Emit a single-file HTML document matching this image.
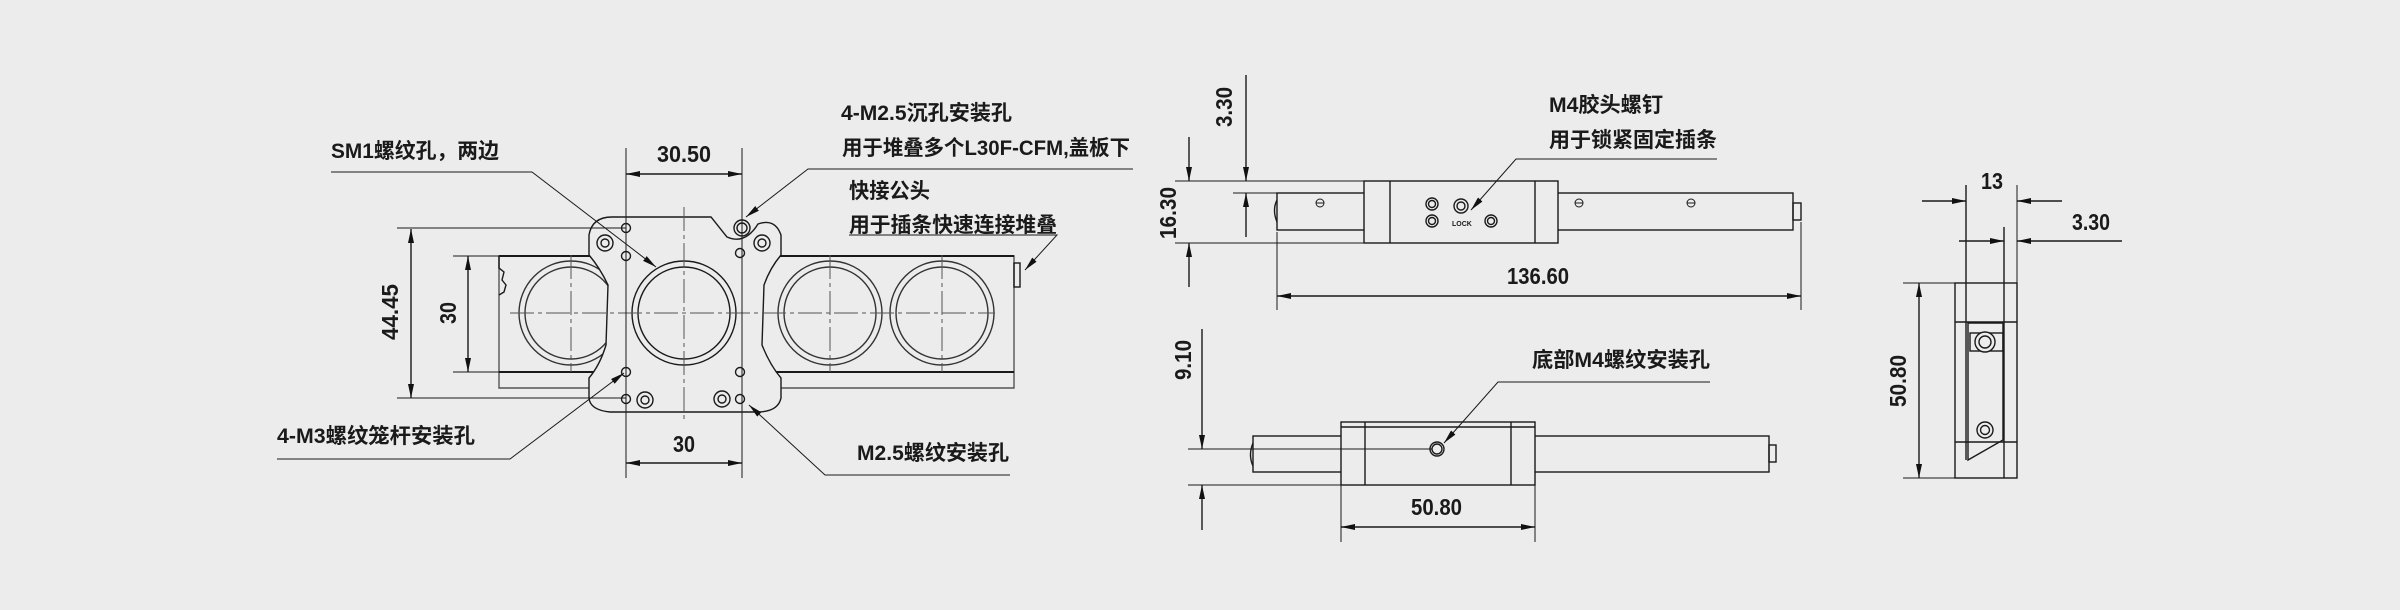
<!DOCTYPE html>
<html><head><meta charset="utf-8"><style>
html,body{margin:0;padding:0;background:#ececec;}
svg{display:block}
text{font-family:"Liberation Sans","Noto Sans CJK SC",sans-serif;fill:#1a1a1a;font-weight:bold;}
.l{font-size:21px}
.d{font-size:23px}
</style></head><body>
<svg width="2400" height="610" viewBox="0 0 2400 610" xmlns="http://www.w3.org/2000/svg">
<defs>
<marker id="a" viewBox="0 0 14 6" refX="14" refY="3" markerWidth="14" markerHeight="6" markerUnits="userSpaceOnUse" orient="auto"><path d="M0,0 L14,3 L0,6 Z" fill="#111"/></marker>
</defs>
<rect width="2400" height="610" fill="#ececec"/>
<g stroke="#1a1a1a" stroke-width="1.4" fill="none">
<!-- VIEW 1 -->
<path d="M499,256 L1014,256 L1014,388 L499,388 Z" stroke="#555"/>
<line x1="499" y1="256" x2="1014" y2="256" stroke-width="2"/>
<line x1="499" y1="372" x2="1014" y2="372" stroke-width="2"/>
<path d="M499,256 L499,268 L504,272 L502,280 L506,285 L504,292 L499,295" />
<rect x="1014" y="263" width="6" height="24"/>
<g stroke="#333">
<circle cx="571" cy="313" r="52"/><circle cx="571" cy="313" r="46"/>
<circle cx="830" cy="313" r="52"/><circle cx="830" cy="313" r="46"/>
<circle cx="942" cy="313" r="52"/><circle cx="942" cy="313" r="46"/>
</g>
<path d="M612,217 L711,217 L727,237 Q745,245 758,224 Q775,218 781,235 L781,255 Q770,268 764,285 L762,345 Q770,365 781,378 L781,398 Q778,412 757,412 L610,412 Q590,410 589,398 L589,378 Q600,365 606,345 L608,285 Q600,268 589,255 L589,235 Q592,217 612,217 Z" fill="#ececec"/>
<circle cx="684" cy="313" r="52"/><circle cx="684" cy="313" r="46"/>
<circle cx="626" cy="228" r="4.5"/><circle cx="626" cy="256" r="4.5"/>
<circle cx="740" cy="253" r="4.5"/>
<circle cx="742" cy="228" r="8"/><circle cx="742" cy="228" r="5"/>
<circle cx="605" cy="243" r="8"/><circle cx="605" cy="243" r="4"/>
<circle cx="762" cy="243" r="8"/><circle cx="762" cy="243" r="4"/>
<circle cx="626" cy="372" r="4.5"/><circle cx="626" cy="399" r="4.5"/>
<circle cx="740" cy="372" r="4.5"/><circle cx="740" cy="399" r="4.5"/>
<circle cx="645" cy="400" r="8"/><circle cx="645" cy="400" r="4"/>
<circle cx="722" cy="399" r="8"/><circle cx="722" cy="399" r="4"/>
<g stroke="#555" stroke-width="1" stroke-dasharray="24,4,4,4">
<line x1="684" y1="207" x2="684" y2="422"/>
<line x1="510" y1="313" x2="995" y2="313"/>
<line x1="571" y1="255" x2="571" y2="372"/>
<line x1="830" y1="255" x2="830" y2="372"/>
<line x1="942" y1="255" x2="942" y2="372"/>
</g>
<g stroke-width="1">
<line x1="626" y1="148" x2="626" y2="478"/>
<line x1="742" y1="148" x2="742" y2="478"/>
<line x1="397" y1="228" x2="626" y2="228"/>
<line x1="397" y1="398" x2="626" y2="398"/>
<line x1="453" y1="256" x2="499" y2="256"/>
<line x1="453" y1="372" x2="499" y2="372"/>
</g>
<line x1="684" y1="174" x2="626" y2="174" marker-end="url(#a)"/>
<line x1="684" y1="174" x2="742" y2="174" marker-end="url(#a)"/>
<line x1="684" y1="463" x2="626" y2="463" marker-end="url(#a)"/>
<line x1="684" y1="463" x2="742" y2="463" marker-end="url(#a)"/>
<line x1="411" y1="313" x2="411" y2="229" marker-end="url(#a)"/>
<line x1="411" y1="313" x2="411" y2="398" marker-end="url(#a)"/>
<line x1="468" y1="313" x2="468" y2="256" marker-end="url(#a)"/>
<line x1="468" y1="313" x2="468" y2="372" marker-end="url(#a)"/>
<polyline points="331,172 532,172 656,267" marker-end="url(#a)" stroke-width="1"/>
<polyline points="1133,169 808,169 746,217" marker-end="url(#a)" stroke-width="1"/>
<polyline points="849,235 1057,235 1025,270" marker-end="url(#a)" stroke-width="1"/>
<polyline points="277,459 510,459 624,373" marker-end="url(#a)" stroke-width="1"/>
<polyline points="1010,475 825,475 749,405" marker-end="url(#a)" stroke-width="1"/>

<!-- VIEW 2 top -->
<rect x="1277" y="193" width="516" height="37"/>
<path d="M1277,200 Q1272,210 1277,222"/>
<rect x="1793" y="203" width="8" height="17"/>
<rect x="1364" y="181" width="194" height="62" fill="#ececec"/>
<line x1="1390" y1="181" x2="1390" y2="243"/>
<line x1="1535" y1="181" x2="1535" y2="243"/>
<g stroke-width="1">
<circle cx="1320" cy="203" r="4"/><line x1="1316" y1="203" x2="1324" y2="203"/>
<circle cx="1579" cy="203" r="4"/><line x1="1575" y1="203" x2="1583" y2="203"/>
<circle cx="1691" cy="203" r="4"/><line x1="1687" y1="203" x2="1695" y2="203"/>
</g>
<circle cx="1432" cy="204" r="6"/><circle cx="1432" cy="204" r="3.5"/>
<circle cx="1432" cy="221" r="6"/><circle cx="1432" cy="221" r="3.5"/>
<circle cx="1461" cy="206" r="7"/><circle cx="1461" cy="206" r="4"/>
<circle cx="1491" cy="221" r="6"/><circle cx="1491" cy="221" r="3.5"/>
<g stroke-width="1">
<line x1="1175" y1="181" x2="1364" y2="181"/>
<line x1="1233" y1="193" x2="1277" y2="193"/>
<line x1="1175" y1="243" x2="1364" y2="243"/>
<line x1="1277" y1="232" x2="1277" y2="310"/>
<line x1="1801" y1="222" x2="1801" y2="310"/>
</g>
<line x1="1246" y1="75" x2="1246" y2="181" marker-end="url(#a)"/>
<line x1="1246" y1="237" x2="1246" y2="193" marker-end="url(#a)"/>
<line x1="1189" y1="137" x2="1189" y2="181" marker-end="url(#a)"/>
<line x1="1189" y1="287" x2="1189" y2="243" marker-end="url(#a)"/>
<line x1="1538" y1="296" x2="1277" y2="296" marker-end="url(#a)"/>
<line x1="1538" y1="296" x2="1801" y2="296" marker-end="url(#a)"/>
<polyline points="1717,159 1516,159 1471,210" marker-end="url(#a)" stroke-width="1"/>

<!-- VIEW 2 bottom -->
<rect x="1253" y="436" width="516" height="36"/>
<path d="M1253,443 Q1248,455 1253,466"/>
<rect x="1769" y="445" width="7" height="17"/>
<rect x="1341" y="422" width="194" height="63" fill="#ececec"/>
<line x1="1341" y1="427" x2="1535" y2="427"/>
<line x1="1365" y1="422" x2="1365" y2="485"/>
<line x1="1511" y1="422" x2="1511" y2="485"/>
<circle cx="1437" cy="449" r="7"/><circle cx="1437" cy="449" r="5"/>
<g stroke-width="1">
<line x1="1188" y1="449" x2="1432" y2="449"/>
<line x1="1188" y1="485" x2="1341" y2="485"/>
<line x1="1341" y1="485" x2="1341" y2="542"/>
<line x1="1535" y1="485" x2="1535" y2="542"/>
</g>
<line x1="1202" y1="329" x2="1202" y2="449" marker-end="url(#a)"/>
<line x1="1202" y1="530" x2="1202" y2="485" marker-end="url(#a)"/>
<line x1="1437" y1="527" x2="1341" y2="527" marker-end="url(#a)"/>
<line x1="1437" y1="527" x2="1535" y2="527" marker-end="url(#a)"/>
<polyline points="1710,382 1498,382 1444,443" marker-end="url(#a)" stroke-width="1"/>

<!-- VIEW 3 -->
<rect x="1955" y="283" width="62" height="195"/>
<line x1="1955" y1="322" x2="2017" y2="322"/>
<line x1="1955" y1="442" x2="2017" y2="442"/>
<line x1="2004" y1="227" x2="2004" y2="478"/>
<line x1="1966" y1="185" x2="1966" y2="460"/>
<path d="M1968,323 L1968,460 L2003,440 L2003,323 Z"/>
<rect x="1970" y="333" width="33" height="18"/>
<circle cx="1985" cy="342" r="10" fill="#ececec"/><circle cx="1985" cy="342" r="6"/>
<circle cx="1985" cy="430" r="8"/><circle cx="1985" cy="430" r="4.5"/>
<g stroke-width="1">
<line x1="2017" y1="185" x2="2017" y2="283"/>
<line x1="1903" y1="283" x2="1955" y2="283"/>
<line x1="1903" y1="478" x2="1955" y2="478"/>
</g>
<line x1="1922" y1="201" x2="1966" y2="201" marker-end="url(#a)"/>
<line x1="2062" y1="201" x2="2017" y2="201" marker-end="url(#a)"/>
<line x1="1959" y1="241" x2="2004" y2="241" marker-end="url(#a)"/>
<line x1="2122" y1="241" x2="2017" y2="241" marker-end="url(#a)"/>
<line x1="1919" y1="381" x2="1919" y2="283" marker-end="url(#a)"/>
<line x1="1919" y1="381" x2="1919" y2="478" marker-end="url(#a)"/>
</g>

<g class="l">
<text x="841" y="120" textLength="171" lengthAdjust="spacingAndGlyphs">4-M2.5沉孔安装孔</text>
<text x="842" y="155" textLength="288" lengthAdjust="spacingAndGlyphs">用于堆叠多个L30F-CFM,盖板下</text>
<text x="849" y="198" textLength="81" lengthAdjust="spacingAndGlyphs">快接公头</text>
<text x="849" y="232" textLength="208" lengthAdjust="spacingAndGlyphs">用于插条快速连接堆叠</text>
<text x="331" y="158" textLength="168" lengthAdjust="spacingAndGlyphs">SM1螺纹孔，两边</text>
<text x="277" y="443" textLength="198" lengthAdjust="spacingAndGlyphs">4-M3螺纹笼杆安装孔</text>
<text x="857" y="460" textLength="152" lengthAdjust="spacingAndGlyphs">M2.5螺纹安装孔</text>
<text x="1549" y="112" textLength="114" lengthAdjust="spacingAndGlyphs">M4胶头螺钉</text>
<text x="1549" y="147" textLength="168" lengthAdjust="spacingAndGlyphs">用于锁紧固定插条</text>
<text x="1532" y="367" textLength="178" lengthAdjust="spacingAndGlyphs">底部M4螺纹安装孔</text>
</g>
<g class="d">
<text x="657" y="162" textLength="54" lengthAdjust="spacingAndGlyphs">30.50</text>
<text x="673" y="452" textLength="22" lengthAdjust="spacingAndGlyphs">30</text>
<text transform="translate(398,312) rotate(-90)" text-anchor="middle" textLength="56" lengthAdjust="spacingAndGlyphs">44.45</text>
<text transform="translate(456,313) rotate(-90)" text-anchor="middle" textLength="22" lengthAdjust="spacingAndGlyphs">30</text>
<text transform="translate(1232,107) rotate(-90)" text-anchor="middle" textLength="40" lengthAdjust="spacingAndGlyphs">3.30</text>
<text transform="translate(1176,213) rotate(-90)" text-anchor="middle" textLength="52" lengthAdjust="spacingAndGlyphs">16.30</text>
<text x="1507" y="284" textLength="62" lengthAdjust="spacingAndGlyphs">136.60</text>
<text transform="translate(1191,360) rotate(-90)" text-anchor="middle" textLength="40" lengthAdjust="spacingAndGlyphs">9.10</text>
<text x="1411" y="515" textLength="51" lengthAdjust="spacingAndGlyphs">50.80</text>
<text x="1981" y="189" textLength="22" lengthAdjust="spacingAndGlyphs">13</text>
<text x="2072" y="230" textLength="38" lengthAdjust="spacingAndGlyphs">3.30</text>
<text transform="translate(1906,381) rotate(-90)" text-anchor="middle" textLength="52" lengthAdjust="spacingAndGlyphs">50.80</text>
</g>
<text x="1452" y="226" style="font-size:7px;font-weight:bold">LOCK</text>
</svg>
</body></html>
